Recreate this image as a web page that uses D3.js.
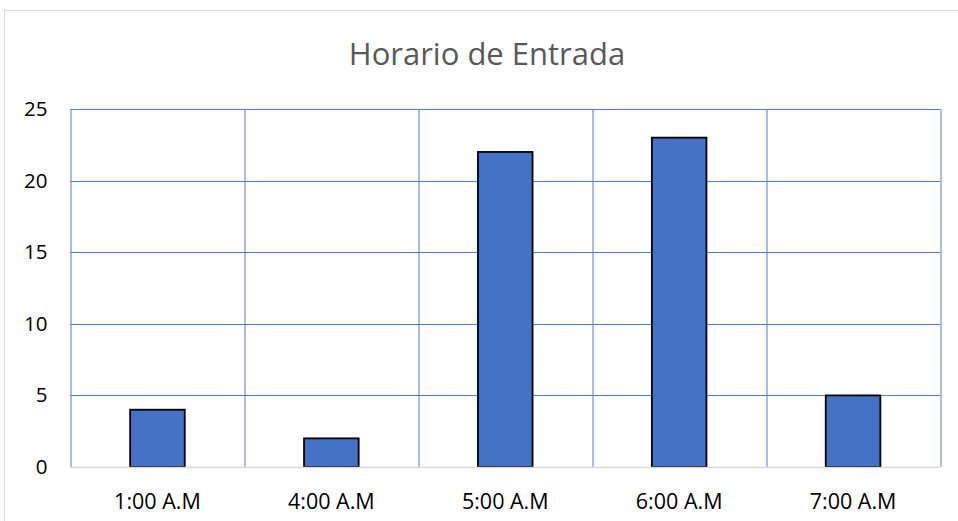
<!DOCTYPE html>
<html>
<head>
<meta charset="utf-8">
<script src="https://cdn.jsdelivr.net/npm/d3@7"></script>
<style>
  body { margin: 0; background: #fff; }
  svg { display: block; font-family: "Open Sans", sans-serif; }
</style>
</head>
<body>
<div id="chart"></div>
<script>
var categories = ["1:00 A.M", "4:00 A.M", "5:00 A.M", "6:00 A.M", "7:00 A.M"];
var values = [4, 2, 22, 23, 5];
var y_ticks = [0, 5, 10, 15, 20, 25];
var chart_title = "Horario de Entrada";

var full_width = 958, full_height = 521;
var margin = {'top': 109, 'right': 18, 'bottom': 54, 'left': 70.5};
var width = full_width - margin.left - margin.right;
var height = full_height - margin.top - margin.bottom;

var svg = d3.select("#chart")
            .append("svg")
            .attr("width", full_width)
            .attr("height", full_height);

// outer chart frame
svg.append("rect")
   .attr("x", 4.5).attr("y", 10.5)
   .attr("width", full_width).attr("height", full_height)
   .attr("fill", "none")
   .attr("stroke", "#d9d9d9");

svg.append("text")
   .attr("x", 487)
   .attr("y", 65)
   .attr("text-anchor", "middle")
   .attr("font-size", 31)
   .attr("fill", "#595959")
   .text(chart_title);

var g = svg.append("g")
           .attr("transform", "translate(" + margin.left + "," + margin.top + ")");

var x = d3.scaleBand()
          .domain(categories)
          .range([0, width])
          .paddingInner(0.686)
          .paddingOuter(0.343);

var x_bounds = d3.scaleLinear()
                 .domain([0, categories.length])
                 .range([0, width]);

var y = d3.scaleLinear()
          .domain([0, 25])
          .range([height, 0]);

// horizontal grid
g.selectAll(".hgrid")
 .data(y_ticks.filter(d => d > 0))
 .enter().append("line")
 .attr("class", "hgrid")
 .attr("x1", 0).attr("x2", width)
 .attr("y1", d => Math.round(y(d)) + 0.5)
 .attr("y2", d => Math.round(y(d)) + 0.5)
 .attr("stroke", "#4f7fd2")
 .attr("stroke-width", 1);

// vertical grid at category boundaries
g.selectAll(".vgrid")
 .data(d3.range(categories.length + 1))
 .enter().append("line")
 .attr("class", "vgrid")
 .attr("x1", d => Math.round(x_bounds(d)) + 0.5)
 .attr("x2", d => Math.round(x_bounds(d)) + 0.5)
 .attr("y1", 0).attr("y2", height)
 .attr("stroke", "#4f7fd2")
 .attr("stroke-width", 1);

// bars
g.selectAll(".bar")
 .data(values)
 .enter().append("rect")
 .attr("class", "bar")
 .attr("x", (d, i) => x(categories[i]))
 .attr("width", x.bandwidth())
 .attr("y", d => y(d))
 .attr("height", d => height - y(d))
 .attr("fill", "#4472c4")
 .attr("stroke", "#000")
 .attr("stroke-width", 1.8);

// zero axis line
g.append("line")
 .attr("x1", 0).attr("x2", width)
 .attr("y1", height + 0.5).attr("y2", height + 0.5)
 .attr("stroke", "#d9d9d9")
 .attr("stroke-width", 1.5);

// y labels
var y_axis = d3.axisLeft(y).tickValues(y_ticks).tickSize(0).tickPadding(23);
g.append("g")
 .call(y_axis)
 .call(s => s.select(".domain").remove())
 .selectAll("text")
 .attr("font-size", 20.5)
 .attr("font-family", "'Open Sans', sans-serif")
 .attr("fill", "#000");

// x labels
var x_axis = d3.axisBottom(x).tickSize(0).tickPadding(27);
g.append("g")
 .attr("transform", "translate(0," + height + ")")
 .call(x_axis)
 .call(s => s.select(".domain").remove())
 .selectAll("text")
 .attr("font-size", 21.5)
 .attr("font-family", "'Open Sans', sans-serif")
 .attr("fill", "#000");
</script>
</body>
</html>
